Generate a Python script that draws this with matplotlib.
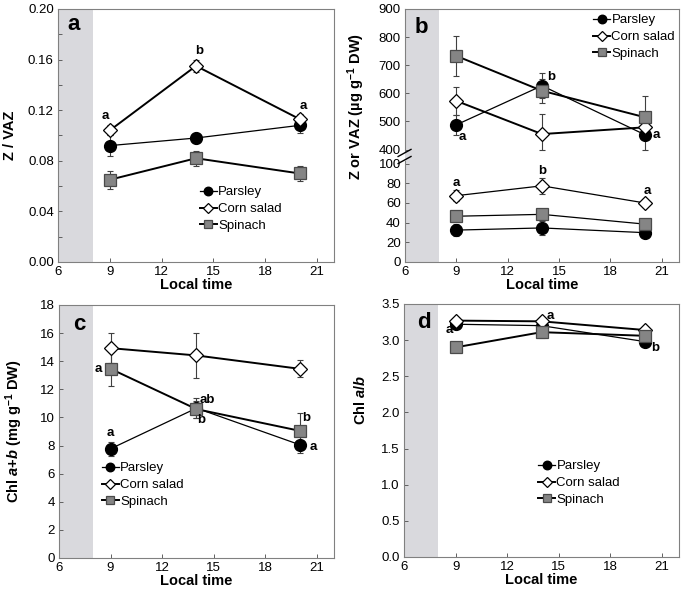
import numpy as np
import matplotlib
matplotlib.use("Agg")
import matplotlib.pyplot as plt
from matplotlib.ticker import MultipleLocator, FixedLocator, FormatStrFormatter
from matplotlib.lines import Line2D

plt.rcParams['font.family'] = ['Liberation Sans', 'DejaVu Sans']
plt.rcParams['mathtext.fontset'] = 'custom'
plt.rcParams['mathtext.rm'] = 'Liberation Sans'
plt.rcParams['mathtext.bf'] = 'Liberation Sans:bold'
plt.rcParams['mathtext.it'] = 'Liberation Sans:italic'
plt.rcParams['mathtext.bfit'] = 'Liberation Sans:italic:bold'

# ---------------- data ----------------
hours = [9, 14, 20]
species = ["Parsley", "Corn salad", "Spinach"]

# panel a: Z / VAZ
parsley_zvaz = [0.092, 0.098, 0.108]
parsley_zvaz_err = [0.008, 0.004, 0.006]
corn_zvaz = [0.104, 0.155, 0.113]
corn_zvaz_err = [0.004, 0.005, 0.004]
spinach_zvaz = [0.065, 0.082, 0.070]
spinach_zvaz_err = [0.007, 0.006, 0.006]

# panel b: VAZ (upper) and Z (lower), ug g-1 DW
parsley_vaz = [488, 627, 453]
parsley_vaz_err = [35, 44, 59]
corn_vaz = [573, 455, 479]
corn_vaz_err = [50, 70, 15]
spinach_vaz = [733, 609, 515]
spinach_vaz_err = [72, 43, 75]

parsley_z = [32.4, 34.6, 29.8]
parsley_z_err = [6, 7, 3]
corn_z = [67.4, 77.4, 60.0]
corn_z_err = [5.5, 8, 4]
spinach_z = [46.5, 48.4, 38.5]
spinach_z_err = [2, 2, 2]

# panel c: Chl a+b (mg g-1 DW)
parsley_chl = [7.77, 10.66, 8.06]
parsley_chl_err = [0.5, 0.7, 0.6]
corn_chl = [14.93, 14.41, 13.46]
corn_chl_err = [1.07, 1.6, 0.6]
spinach_chl = [13.46, 10.59, 9.05]
spinach_chl_err = [1.2, 0.6, 1.25]

# panel d: Chl a/b
parsley_ab = [3.22, 3.20, 2.98]
parsley_ab_err = [0.03, 0.04, 0.04]
corn_ab = [3.27, 3.26, 3.14]
corn_ab_err = [0.02, 0.03, 0.02]
spinach_ab = [2.90, 3.11, 3.06]
spinach_ab_err = [0.02, 0.08, 0.03]

dark_start, dark_end = 6, 8

# ---------------- styles ----------------
PX = 0.72  # points per pixel at dpi 100
styles = {
    "Parsley": dict(marker='o', ms=8.5, mfc='black', mec='black', color='black', lw=0.9),
    "Corn salad": dict(marker='D', ms=7, mfc='white', mec='black', color='black', lw=1.4, mew=0.9),
    "Spinach": dict(marker='s', ms=8, mfc='#858585', mec='#4a4a4a', color='black', lw=1.4, mew=0.9),
}
SPINE = '#808080'

fig = plt.figure(figsize=(6.85, 5.95), dpi=100)

def frame(ax):
    ax.set_facecolor('white')
    for s in ax.spines.values():
        s.set_color(SPINE)
        s.set_linewidth(0.8)
    ax.tick_params(direction='in', length=3, width=0.7, color='#606060',
                   labelsize=9.5, pad=3)
    ax.tick_params(which='minor', direction='in', length=3, width=0.7, color='#606060')
    ax.set_xlim(6, 22)
    ax.xaxis.set_major_locator(FixedLocator([6, 9, 12, 15, 18, 21]))
    ax.axvspan(dark_start, dark_end, color='#d9d9dd', lw=0, zorder=0)
    ax.set_xlabel("Local time", fontsize=10.5, fontweight='bold', labelpad=0)

def series(ax, name, y, e):
    st = dict(styles[name])
    ax.errorbar(hours, y, yerr=e, fmt='none', ecolor='#404040', elinewidth=0.8,
                capsize=2.2, capthick=0.8, zorder=2)
    ax.plot(hours, y, label=name, zorder=3, **st)

def letters(ax, y_list, items):
    for idx, txt, dx, dy in items:
        ax.annotate(txt, (hours[idx], y_list[idx]), xytext=(dx * PX, dy * PX),
                    textcoords='offset points', ha='center', va='center',
                    fontsize=9.5, fontweight='bold', zorder=5)

def legend(ax, x, y):
    ax.legend(loc='upper left', bbox_to_anchor=(x, y), frameon=False, fontsize=9.5,
              handlelength=1.3, handletextpad=0.1, labelspacing=0.35,
              borderpad=0, borderaxespad=0, markerscale=0.72)

def panel_letter(ax, txt, x, y):
    ax.text(x, y, txt, transform=ax.transAxes, fontsize=16, fontweight='bold',
            va='baseline', ha='left', zorder=6)

# ---------------- panel a ----------------
axa = fig.add_axes([0.0847, 0.5597, 0.4029, 0.4252])
frame(axa)
series(axa, "Parsley", parsley_zvaz, parsley_zvaz_err)
series(axa, "Corn salad", corn_zvaz, corn_zvaz_err)
series(axa, "Spinach", spinach_zvaz, spinach_zvaz_err)
axa.set_ylim(0, 0.20)
axa.yaxis.set_major_locator(MultipleLocator(0.04))
axa.yaxis.set_minor_locator(MultipleLocator(0.02))
axa.yaxis.set_major_formatter(FormatStrFormatter('%.2f'))
axa.set_ylabel("Z / VAZ", fontsize=10.5, fontweight='bold')
axa.yaxis.set_label_coords(-0.149, 0.5)
letters(axa, corn_zvaz, [(0, 'a', -4, 14), (1, 'b', 3, 15), (2, 'a', 4, 13)])
legend(axa, 0.514, 0.30)
panel_letter(axa, 'a', 0.033, 0.917)

# ---------------- panel b (broken axis) ----------------
def fwd(v):
    v = np.asarray(v, dtype=float)
    return np.where(v <= 100, v * 0.98,
                    np.where(v >= 400, 112 + (v - 400) * 0.28,
                             98 + (v - 100) * 14.0 / 300))

def inv(t):
    t = np.asarray(t, dtype=float)
    return np.where(t <= 98, t / 0.98,
                    np.where(t >= 112, 400 + (t - 112) / 0.28,
                             100 + (t - 98) * 300 / 14.0))

axb = fig.add_axes([0.5912, 0.5597, 0.4000, 0.4252])
frame(axb)
axb.set_yscale('function', functions=(fwd, inv))
for name, y, e in [("Parsley", parsley_vaz, parsley_vaz_err),
                   ("Corn salad", corn_vaz, corn_vaz_err),
                   ("Spinach", spinach_vaz, spinach_vaz_err)]:
    series(axb, name, y, e)
for name, y, e in [("Parsley", parsley_z, parsley_z_err),
                   ("Corn salad", corn_z, corn_z_err),
                   ("Spinach", spinach_z, spinach_z_err)]:
    st = dict(styles[name])
    axb.errorbar(hours, y, yerr=e, fmt='none', ecolor='#404040', elinewidth=0.8,
                 capsize=2.2, capthick=0.8, zorder=2)
    st['lw'] = 0.9
    axb.plot(hours, y, zorder=3, **st)
axb.set_ylim(0, 900)
axb.yaxis.set_major_locator(FixedLocator([0, 20, 40, 60, 80, 100, 400, 500, 600, 700, 800, 900]))
axb.yaxis.set_major_formatter(FormatStrFormatter('%d'))
axb.yaxis.set_minor_locator(FixedLocator([]))
axb.set_ylabel("Z or VAZ (µg g$^{\\mathbf{-1}}$ DW)", fontsize=10.5, fontweight='bold')
axb.yaxis.set_label_coords(-0.139, 0.613)
# break in the left spine
axb.spines['left'].set_visible(False)
g0, g1 = 98 / 252, 112 / 252
axb.add_line(Line2D([0, 0], [0, g0 + 0.01], transform=axb.transAxes, color=SPINE, lw=0.8, clip_on=False))
axb.add_line(Line2D([0, 0], [g1 - 0.01, 1], transform=axb.transAxes, color=SPINE, lw=0.8, clip_on=False))
for yc in (0.403, 0.431):
    axb.add_line(Line2D([-0.025, 0.022], [yc - 0.014, yc + 0.014], transform=axb.transAxes,
                        color='black', lw=1.0, clip_on=False))
letters(axb, parsley_vaz, [(0, 'a', 6, -12), (1, 'b', 9, 9), (2, 'a', 12, 0)])
letters(axb, corn_z, [(0, 'a', 0, 13), (1, 'b', 0, 15), (2, 'a', 3, 12)])
legend(axb, 0.686, 0.98)
panel_letter(axb, 'b', 0.036, 0.905)

# ---------------- panel c ----------------
axc = fig.add_axes([0.0861, 0.0622, 0.4015, 0.4252])
frame(axc)
series(axc, "Parsley", parsley_chl, parsley_chl_err)
series(axc, "Corn salad", corn_chl, corn_chl_err)
series(axc, "Spinach", spinach_chl, spinach_chl_err)
axc.set_ylim(0, 18)
axc.yaxis.set_major_locator(MultipleLocator(2))
axc.set_ylabel("Chl $\\mathbfit{a}$+$\\mathbfit{b}$ (mg g$^{\\mathbf{-1}}$ DW)", fontsize=10.5, fontweight='bold')
axc.yaxis.set_label_coords(-0.124, 0.5)
letters(axc, spinach_chl, [(0, 'a', -12, 0), (1, 'ab', 11, 9), (2, 'b', 7, 13)])
letters(axc, parsley_chl, [(0, 'a', 0, 16), (1, 'b', 5, -12), (2, 'a', 14, -2)])
legend(axc, 0.156, 0.379)
panel_letter(axc, 'c', 0.051, 0.901)

# ---------------- panel d ----------------
axd = fig.add_axes([0.5898, 0.0639, 0.4015, 0.4252])
frame(axd)
series(axd, "Parsley", parsley_ab, parsley_ab_err)
series(axd, "Corn salad", corn_ab, corn_ab_err)
series(axd, "Spinach", spinach_ab, spinach_ab_err)
axd.set_ylim(0, 3.5)
axd.yaxis.set_major_locator(MultipleLocator(0.5))
axd.yaxis.set_major_formatter(FormatStrFormatter('%.1f'))
axd.set_ylabel("Chl $\\mathbfit{a}$/$\\mathbfit{b}$", fontsize=10.5, fontweight='bold')
axd.yaxis.set_label_coords(-0.131, 0.62)
letters(axd, parsley_ab, [(0, 'a', -6, -6), (2, 'b', 11, -6)])
letters(axd, corn_ab, [(1, 'a', 9, 5)])
legend(axd, 0.487, 0.383)
panel_letter(axd, 'd', 0.047, 0.905)

fig.savefig("out.png", dpi=100, facecolor='white')
